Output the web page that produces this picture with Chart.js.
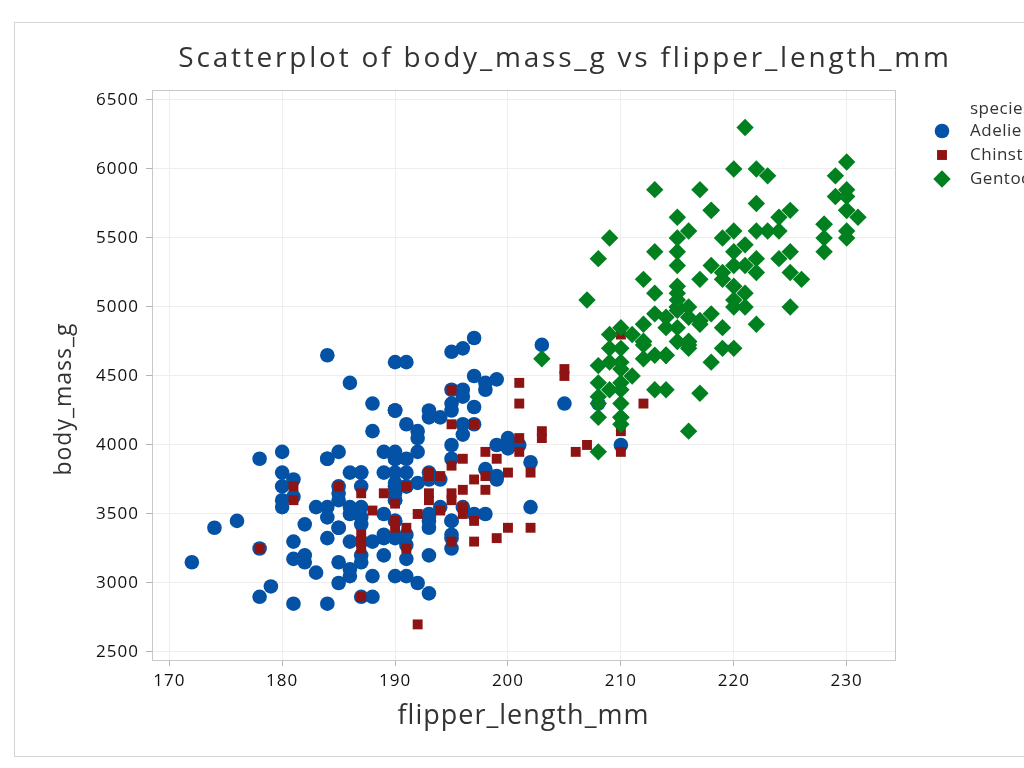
<!DOCTYPE html>
<html lang="en">
<head>
  <meta charset="UTF-8">
  <title>Scatterplot of body_mass_g vs flipper_length_mm</title>
  <script src="https://cdn.jsdelivr.net/npm/chart.js"></script>
  <style>
    html, body { margin: 0; padding: 0; background: #fff; overflow: hidden; }
    #wrap { position: relative; width: 1128px; height: 768px; }
  </style>
</head>
<body>
  <div id="wrap"><canvas id="scatter"></canvas></div>

  <script>
    // texts
    const titleText = 'Scatterplot of body_mass_g vs flipper_length_mm';
    const legendTitle = 'species';
    const xTitle = 'flipper_length_mm';
    const yTitle = 'body_mass_g';
    const speciesNames = ['Adelie', 'Chinstrap', 'Gentoo'];

    // tick labels
    const xTicks = [170, 180, 190, 200, 210, 220, 230];
    const yTicks = [2500, 3000, 3500, 4000, 4500, 5000, 5500, 6000, 6500];

    // Adelie
    const adelieFlipper = [181,186,195,193,190,181,195,193,190,186,180,182,191,198,185,195,197,184,194,174,
      180,189,185,180,187,183,187,172,180,178,178,188,184,195,196,190,180,181,184,182,
      195,186,196,185,190,182,179,190,191,186,188,190,200,187,191,186,193,181,194,185,
      195,185,192,184,192,195,188,190,198,190,190,196,197,190,195,191,184,187,195,189,
      196,187,193,191,194,190,189,189,190,202,205,185,186,187,208,190,196,178,192,192,
      203,183,190,193,184,199,190,181,197,198,191,193,197,191,196,188,199,189,189,187,
      198,176,202,186,199,191,195,191,210,190,197,193,199,187,190,191,200,185,193,193,
      187,188,190,192,185,190,184,195,193,187,201];
    const adelieMass = [3750,3800,3250,3450,3650,3625,4675,3475,4250,3300,3700,3200,3800,4400,3700,3450,4500,3325,4200,3400,
      3600,3800,3950,3800,3800,3550,3200,3150,3950,3250,3900,3300,3900,3325,4150,3950,3550,3300,4650,3150,
      3900,3100,4400,3000,4600,3425,2975,3450,4150,3500,4300,3450,4050,2900,3700,3550,3800,2850,3750,3150,
      4400,3600,4050,2850,3950,3350,4100,3050,4450,3600,3900,3550,4150,3700,4250,3700,3900,3550,4000,3200,
      4700,3800,4200,3350,3550,3800,3500,3950,3600,3550,4300,3400,4450,3300,4300,3700,4350,2900,4100,3725,
      4725,3075,4250,2925,3550,3750,3900,3175,4775,3825,4600,3200,4275,3900,4075,2900,3775,3350,3325,3150,
      3500,3450,3875,3050,4000,3275,4300,3050,4000,3325,3500,3500,4475,3425,3900,3175,3975,3400,4250,3400,
      3475,3050,3725,3000,3650,4250,3475,3450,3750,3700,4000];

    // Chinstrap
    const chinstrapFlipper = [178,181,181,185,187,187,187,187,187,188,189,190,190,190,191,191,191,192,192,193,
      193,193,193,194,194,195,195,195,195,195,195,196,196,196,196,197,197,197,197,198,
      198,198,199,199,200,200,201,201,201,201,202,202,203,203,205,205,206,207,210,210,
      210,212];
    const chinstrapMass = [3250,3700,3600,3700,3650,3350,3300,3250,2900,3525,3650,3575,3450,3400,3700,3400,3250,3500,2700,3800,
      3775,3650,3600,3775,3525,4400,4150,3850,3650,3600,3300,3900,3675,3550,3500,4150,3750,3450,3300,3950,
      3775,3675,3900,3325,3800,3400,4450,4300,4050,3950,3800,3400,4100,4050,4550,4500,3950,4000,4800,4100,
      3950,4300];

    // Gentoo
    const gentooFlipper = [211,230,210,218,215,210,211,219,209,215,214,216,214,213,210,217,210,221,209,222,
      218,215,213,215,215,215,216,215,210,220,222,209,207,230,220,220,213,219,208,208,
      208,225,210,216,222,217,210,225,213,215,210,220,210,225,217,220,208,220,208,224,
      208,221,214,231,219,230,214,229,220,223,216,221,221,217,216,230,209,220,215,223,
      212,221,212,224,212,228,218,218,212,230,218,228,212,224,214,226,216,222,203,225,
      219,228,215,228,216,215,210,219,208,209,216,229,213,230,217,230,217,222,214,215,
      222,212,213];
    const gentooMass = [4500,5700,4450,5700,5400,4550,4800,5200,4400,5150,4650,5550,4650,5850,4200,5850,4150,6300,4800,5350,
      5700,5000,4400,5050,5000,5100,4100,5650,4600,5550,5250,4700,5050,6050,5150,5400,4950,5250,4350,5350,
      3950,5700,4300,4750,5550,4900,4200,5400,5100,5300,4850,5300,4400,5000,4900,5050,4300,5000,4450,5550,
      4200,5300,4400,5650,4700,5700,4650,5800,4700,5550,4750,5000,5100,5200,4700,5800,4600,6000,4750,5950,
      4625,5450,4725,5350,4750,5600,4600,5300,4875,5550,4950,5400,4750,5650,4850,5200,4925,4875,4625,5250,
      4850,5600,4975,5500,4725,5500,4700,5500,4575,5500,5000,5950,4650,5500,4375,5850,4875,6000,4925,4850,
      5750,5200,5400];

    const blue = '#0452a5';
    const red = '#8e1414';
    const green = '#00801f';
    const textFont = '"Open Sans", "DejaVu Sans", sans-serif';

    function toPoints(xs, ys) {
      return xs.map((x, i) => ({ x: x, y: ys[i] }));
    }

    // outer frame, plot frame, spaced title, y title and the legend
    const decorations = {
      id: 'decorations',
      beforeDraw(chart) {
        const ctx = chart.ctx;
        ctx.save();
        ctx.strokeStyle = '#d4d4d4';
        ctx.lineWidth = 1;
        ctx.strokeRect(14.5, 22.5, 1099, 734);
        ctx.restore();
        ctx.letterSpacing = '1px';
      },
      beforeDatasetsDraw(chart) {
        const { ctx, chartArea: a } = chart;
        ctx.save();
        ctx.strokeStyle = '#c8c8c8';
        ctx.lineWidth = 1;
        ctx.strokeRect(a.left + 0.5, a.top + 0.5, a.right - a.left, a.bottom - a.top);
        ctx.restore();
      },
      afterDraw(chart) {
        const ctx = chart.ctx;
        ctx.save();
        ctx.fillStyle = '#333';
        ctx.font = '28px ' + textFont;
        ctx.letterSpacing = '2.8px';
        ctx.textAlign = 'center';
        ctx.textBaseline = 'alphabetic';
        ctx.fillText(titleText, 565, 67);

        // y axis title, a little below the middle of the plot as in the original
        ctx.save();
        ctx.translate(64, 399);
        ctx.rotate(-Math.PI / 2);
        ctx.font = '23px ' + textFont;
        ctx.letterSpacing = '1px';
        ctx.textBaseline = 'middle';
        ctx.fillText(yTitle, 0, 0);
        ctx.restore();

        ctx.letterSpacing = '0.5px';
        ctx.font = '17px ' + textFont;
        ctx.textAlign = 'left';
        ctx.textBaseline = 'middle';
        ctx.fillText(legendTitle, 970, 109);
        chart.data.datasets.forEach((ds, i) => {
          const y = 131 + i * 24;
          ctx.fillStyle = ds.pointBackgroundColor;
          Chart.helpers.drawPoint(ctx, { pointStyle: ds.pointStyle, radius: ds.pointRadius, rotation: 0, borderWidth: 0 }, 942, y);
          ctx.fillStyle = '#333';
          ctx.fillText(ds.label, 970, y);
        });
        ctx.restore();
      }
    };

    const ctx = document.getElementById('scatter').getContext('2d');
    new Chart(ctx, {
      type: 'scatter',
      data: {
        datasets: [
          {
            label: speciesNames[0],
            data: toPoints(adelieFlipper, adelieMass),
            pointStyle: 'circle',
            pointRadius: 7.3,
            pointBackgroundColor: blue,
            pointBorderWidth: 0,
            order: 3
          },
          {
            label: speciesNames[1],
            data: toPoints(chinstrapFlipper, chinstrapMass),
            pointStyle: 'rect',
            pointRadius: 7,
            pointBackgroundColor: red,
            pointBorderWidth: 0,
            order: 2
          },
          {
            label: speciesNames[2],
            data: toPoints(gentooFlipper, gentooMass),
            pointStyle: 'rectRot',
            pointRadius: 8.7,
            pointBackgroundColor: green,
            pointBorderWidth: 0,
            order: 1
          }
        ]
      },
      options: {
        responsive: true,
        maintainAspectRatio: false,
        animation: false,
        events: [],
        layout: { padding: { top: 90, right: 233, bottom: 31, left: 44 } },
        plugins: {
          legend: { display: false },
          tooltip: { enabled: false }
        },
        scales: {
          x: {
            type: 'linear',
            min: 168.47,
            max: 234.28,
            afterBuildTicks: axis => { axis.ticks = xTicks.map(v => ({ value: v })); },
            afterFit: axis => { axis.height = 77; },
            grid: { color: '#eeeeee', tickColor: '#b4b4b4', tickLength: 6 },
            border: { color: '#c8c8c8' },
            ticks: { color: '#111', font: { family: textFont, size: 17 }, padding: 5, maxRotation: 0,
              callback: value => String(value) },
            title: { display: true, text: xTitle, color: '#333', font: { family: textFont, size: 27 }, padding: { top: 4, bottom: 4 } }
          },
          y: {
            type: 'linear',
            min: 2442,
            max: 6572,
            afterBuildTicks: axis => { axis.ticks = yTicks.map(v => ({ value: v })); },
            afterFit: axis => { axis.width = 108; },
            grid: { color: '#eeeeee', tickColor: '#b4b4b4', tickLength: 6 },
            border: { color: '#c8c8c8' },
            ticks: { color: '#111', font: { family: textFont, size: 17 }, padding: 7,
              callback: value => String(value) },
            title: { display: false }
          }
        }
      },
      plugins: [decorations]
    });
  </script>
</body>
</html>
